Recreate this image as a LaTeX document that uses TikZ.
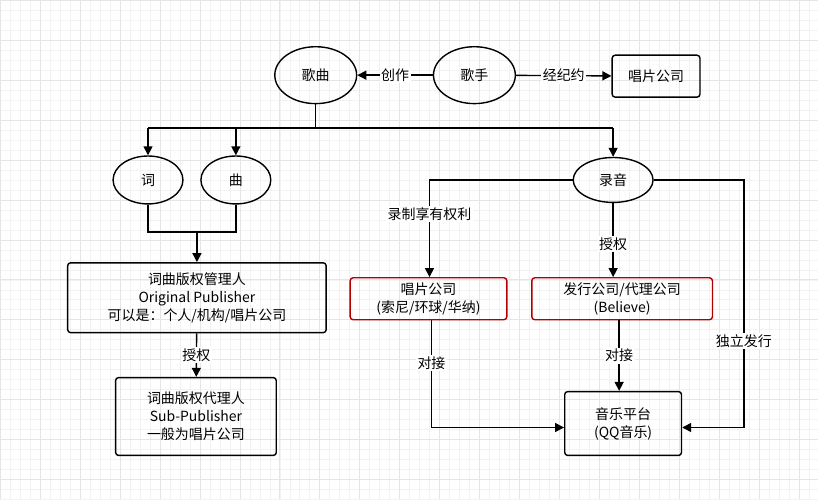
\documentclass[tikz,border=0pt]{standalone}
\usepackage{fontspec}
\setmainfont{Noto Sans CJK SC}
\usetikzlibrary{arrows.meta,shapes.geometric}
\begin{document}
\begin{tikzpicture}[x=1pt,y=-1pt,
  every node/.style={font=\fontsize{14}{18}\selectfont},
  ell/.style={draw,line width=1.4pt,ellipse,minimum width=#1,inner sep=0pt},
  box/.style={draw,line width=1.4pt,rounded corners=3pt,align=center},
  rbox/.style={draw=red!70!black,line width=1.4pt,rounded corners=3pt,align=center},
  ln/.style={line width=1.4pt},
  ar/.style={line width=1.4pt,-{Triangle[length=9pt,width=9pt]}},
  lab/.style={fill=white,inner sep=1.5pt}]
\fill[white] (0,0) rectangle (819,500);
\foreach \i in {0,10,...,820} \draw[black!5,line width=0.5pt] (\i,0) -- (\i,500);
\foreach \i in {0,10,...,500} \draw[black!5,line width=0.5pt] (0,\i) -- (819,\i);
\foreach \i in {0,40,...,820} \draw[black!10,line width=0.6pt] (\i,0) -- (\i,500);
\foreach \i in {0,40,...,500} \draw[black!10,line width=0.6pt] (0,\i) -- (819,\i);
\useasboundingbox (0,0) rectangle (819,500);
\node[ell=82pt,minimum height=57pt] (gq) at (316,75) {歌曲};
\node[ell=82pt,minimum height=57pt] (gs) at (475,75) {歌手};
\node[box,minimum width=88pt,minimum height=42pt] (cp) at (657,76) {唱片公司};
\node[ell=70pt,minimum height=48pt] (ci) at (148,180) {词};
\node[ell=70pt,minimum height=48pt] (qu) at (236,180) {曲};
\node[ell=80pt,minimum height=45pt] (ly) at (614,180) {录音};
\node[box,minimum width=259pt,minimum height=70pt] (gl) at (197,298) {词曲版权管理人\\Original Publisher\\可以是：个人/机构/唱片公司};
\node[box,minimum width=161pt,minimum height=78pt] (dl) at (196,417) {词曲版权代理人\\Sub-Publisher\\一般为唱片公司};
\node[rbox,minimum width=157pt,minimum height=42pt] (cp2) at (429,299) {唱片公司\\(索尼/环球/华纳)};
\node[rbox,minimum width=181pt,minimum height=42pt] (fx) at (623,299) {发行公司/代理公司\\(Believe)};
\node[box,minimum width=117pt,minimum height=64pt] (yy) at (624,424) {音乐平台\\(QQ音乐)};
\coordinate (j1) at (316,128);
\draw[ar] (gs) -- node[lab]{创作} (gq);
\draw[ar] (gs) -- node[lab]{经纪约} (cp);
\draw[ln] (gq) -- (j1);
\draw[ln] (148,128) -- (614,128);
\draw[ar] (148,128) -- (ci);
\draw[ar] (236,128) -- (qu);
\draw[ar] (614,128) -- (ly);
\draw[ln] (ci) -- (148,232) -- (236,232) -- (qu);
\draw[ar] (197,232) -- (gl);
\draw[ar] (gl) -- node[lab]{授权} (dl);
\draw[ar] (ly.west) -- (430,180) -- node[lab,pos=0.35]{录制享有权利} (cp2.north-|430,0);
\draw[ar] (ly) -- node[lab,pos=0.55]{授权} (ly|-fx.north);
\draw[ar] (ly.east) -- (745,180) -- node[lab,pos=0.65]{独立发行} (745,428) -- (yy.east|-0,428);
\draw[ar] (cp2.south-|432,0) -- node[lab,pos=0.4]{对接} (432,428) -- (yy.west|-0,428);
\draw[ar] (fx.south-|620,0) -- node[lab]{对接} (yy.north-|620,0);
\end{tikzpicture}
\end{document}
